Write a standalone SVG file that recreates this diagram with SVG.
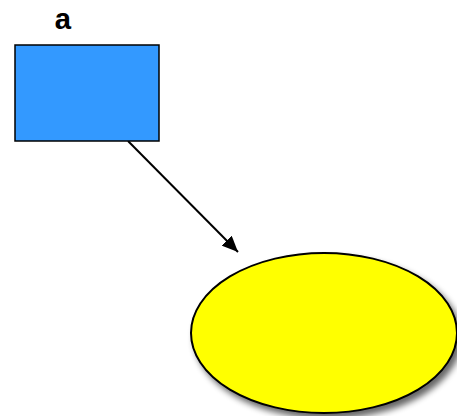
<svg xmlns="http://www.w3.org/2000/svg" width="457" height="416" viewBox="0 0 457 416">
<defs>
<filter id="sh" x="-20%" y="-20%" width="150%" height="150%">
<feGaussianBlur in="SourceAlpha" stdDeviation="3"/>
<feOffset dx="4" dy="5" result="b"/>
<feComponentTransfer><feFuncA type="linear" slope="0.6"/></feComponentTransfer>
<feMerge><feMergeNode/><feMergeNode in="SourceGraphic"/></feMerge>
</filter>
<marker id="arr" viewBox="0 0 16 14" refX="16" refY="7" markerWidth="16" markerHeight="14" markerUnits="userSpaceOnUse" orient="auto">
<path d="M0,0 L16,7 L0,14 z" fill="#000"/>
</marker>
<style>
.lbl{font-family:"Liberation Mono","DejaVu Sans Mono",monospace;font-weight:bold;font-size:30px;fill:#000}
.conn{stroke:#000;stroke-width:2;fill:none}
</style>
</defs>
<g id="connectors">
<path class="conn" d="M128,141 L238,252" marker-end="url(#arr)"/>
</g>
<g id="node-a">
<rect x="15" y="45" width="144" height="96" fill="#3399ff" stroke="#000" stroke-width="1.5"/>
<text class="lbl" x="63" y="29" text-anchor="middle">a</text>
</g>
<g id="node-b">
<ellipse cx="324" cy="333" rx="133" ry="80" fill="#ffff00" stroke="#000" stroke-width="2" filter="url(#sh)"/>
</g>
</svg>
